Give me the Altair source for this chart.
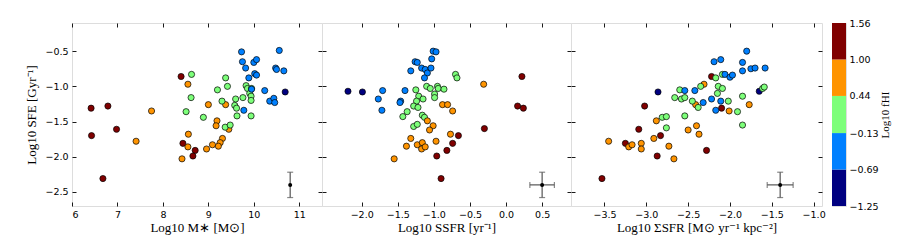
import altair as alt
import pandas as pd

# ---------------- data ----------------
# colour classes: 'n' navy, 'b' blue, 'g' green, 'o' orange, 'r' dark red
FHI = {"n": -1.0, "b": -0.4, "g": 0.15, "o": 0.7, "r": 1.3}

# Panel 1: Log10 M* vs Log10 SFE
mass_r_x = [6.42, 6.43, 6.79, 6.98, 6.68, 8.40, 8.44, 8.71, 8.66]
mass_r_y = [-1.31, -1.70, -1.28, -1.61, -2.31, -0.86, -1.81, -1.91, -1.99]
mass_o_x = [7.75, 7.41, 8.55, 8.56, 8.55, 8.42, 9.00, 9.19, 9.17, 9.09, 8.96, 9.31, 9.26, 9.22, 9.38, 9.45]
mass_o_y = [-1.35, -1.78, -0.97, -1.68, -1.86, -2.03, -1.26, -1.49, -1.56, -1.83, -1.89, -1.74, -1.80, -1.85, -1.26, -1.61]
mass_g_x = [8.63, 8.62, 8.51, 8.89, 9.20, 9.38, 9.42, 9.30, 9.37, 9.48, 9.60, 9.58, 9.62, 9.63, 9.76, 9.83, 9.86, 9.91, 9.94, 9.94, 9.94, 9.95]
mass_g_y = [-0.83, -1.16, -1.36, -1.44, -1.05, -0.88, -1.00, -1.21, -1.58, -1.55, -1.18, -1.27, -1.31, -1.42, -1.16, -0.99, -1.03, -1.10, -1.14, -1.20, -1.42, -1.03]
mass_b_x = [9.73, 9.75, 9.82, 9.89, 10.00, 10.06, 10.02, 10.06, 9.95, 9.78, 10.24, 10.35, 10.44, 10.46, 10.48, 10.50, 10.56, 10.66]
mass_b_y = [-0.51, -0.65, -0.74, -0.88, -0.66, -0.62, -0.82, -0.84, -1.04, -1.34, -1.06, -1.21, -1.17, -1.23, -0.74, -0.76, -0.49, -0.78]
mass_n_x = [10.69]
mass_n_y = [-1.08]

# Panel 2: Log10 SSFR vs Log10 SFE
ssfr_n_x = [-2.19, -1.99]
ssfr_n_y = [-1.07, -1.08]
ssfr_b_x = [-1.71, -1.77, -1.72, -1.40, -1.46, -1.47, -1.32, -1.26, -1.23, -1.17, -1.12, -1.09, -1.13, -1.04, -1.03, -1.01, -0.97]
ssfr_b_y = [-1.06, -1.18, -1.34, -1.06, -1.21, -1.23, -0.78, -0.65, -0.66, -0.74, -0.76, -0.81, -0.88, -0.74, -0.61, -0.50, -0.51]
ssfr_g_x = [-1.25, -1.21, -1.24, -1.15, -1.28, -1.22, -1.37, -1.43, -1.16, -1.13, -1.28, -1.23, -1.10, -1.05, -0.95, -0.94, -0.99, -0.99, -0.86, -0.70, -0.68]
ssfr_g_y = [-1.05, -1.14, -1.21, -1.18, -1.28, -1.30, -1.36, -1.43, -1.41, -1.44, -1.57, -1.54, -1.00, -1.03, -1.00, -1.03, -1.11, -1.16, -1.04, -0.83, -0.88]
ssfr_o_x = [-0.88, -0.81, -0.74, -1.09, -1.01, -1.06, -0.31, -1.32, -1.38, -1.23, -1.16, -1.17, -1.12, -0.97, -0.77, -1.55]
ssfr_o_y = [-1.26, -1.26, -1.35, -1.49, -1.56, -1.62, -0.97, -1.74, -1.85, -1.83, -1.80, -1.89, -1.86, -1.78, -1.68, -2.03]
ssfr_r_x = [0.22, 0.16, 0.24, -0.30, -0.66, -0.74, -0.82, -0.96, -0.90]
ssfr_r_y = [-0.86, -1.28, -1.31, -1.60, -1.70, -1.81, -1.91, -1.99, -2.31]

# Panel 3: Log10 Sigma_SFR vs Log10 SFE
ssig_r_x = [-3.53, -3.25, -3.09, -3.02, -2.87, -2.83, -2.22, -2.28, -2.10]
ssig_r_y = [-2.31, -1.81, -1.61, -1.28, -1.99, -1.70, -0.86, -1.91, -1.31]
ssig_n_x = [-2.86, -1.65]
ssig_n_y = [-1.08, -1.07]
ssig_o_x = [-3.45, -3.21, -3.17, -3.06, -3.06, -2.91, -2.88, -2.73, -2.67, -2.50, -2.40, -2.37, -2.41, -2.31, -2.01, -1.77]
ssig_o_y = [-1.78, -1.86, -1.83, -1.81, -1.89, -1.74, -1.49, -1.85, -2.03, -1.62, -1.56, -1.68, -1.26, -0.97, -1.35, -1.26]
ssig_g_x = [-2.81, -2.76, -2.76, -2.66, -2.60, -2.58, -2.54, -2.54, -2.45, -2.38, -2.35, -2.17, -2.09, -2.14, -2.09, -2.15, -2.02, -1.91, -1.85, -1.85, -1.61, -1.59]
ssig_g_y = [-1.44, -1.43, -1.59, -1.16, -1.05, -1.18, -1.16, -1.42, -1.21, -1.30, -1.00, -0.88, -0.83, -1.00, -1.03, -1.10, -1.21, -1.36, -1.14, -1.55, -1.03, -1.01]
ssig_b_x = [-2.19, -2.11, -1.80, -1.85, -1.85, -1.75, -1.70, -1.58, -2.06, -2.00, -1.97, -2.54, -2.42, -2.32, -2.22, -2.17, -2.11]
ssig_b_y = [-0.65, -0.62, -0.50, -0.66, -0.78, -0.75, -0.74, -0.74, -0.83, -0.87, -0.84, -1.06, -1.06, -1.23, -1.18, -1.34, -1.21]

# typical error bars (x, y, x-error, y-error) per panel
err_x = [10.8, 0.5, -1.4]
err_y = [-2.4, -2.4, -2.4]
err_xe = [0.0, 0.17, 0.155]
err_ye = [0.18, 0.18, 0.18]

# colour bar
cbar_edges = [-1.25, -0.69, -0.13, 0.44, 1.00, 1.56]
cbar_colors = ["#000080", "#0080ff", "#7dff7a", "#ff9400", "#800000"]

y_ticks = [-2.5, -2.0, -1.5, -1.0, -0.5]
y_domain = [-2.7, -0.1]

# ---------------- build ----------------
def frame(groups):
    rows = []
    for cls, xs, ys in groups:
        for a, b in zip(xs, ys):
            rows.append({"x": a, "y": b, "f": FHI[cls]})
    return pd.DataFrame(rows)

df_mass = frame([("r", mass_r_x, mass_r_y), ("o", mass_o_x, mass_o_y), ("g", mass_g_x, mass_g_y),
                 ("b", mass_b_x, mass_b_y), ("n", mass_n_x, mass_n_y)])
df_ssfr = frame([("n", ssfr_n_x, ssfr_n_y), ("b", ssfr_b_x, ssfr_b_y), ("g", ssfr_g_x, ssfr_g_y),
                 ("o", ssfr_o_x, ssfr_o_y), ("r", ssfr_r_x, ssfr_r_y)])
df_ssig = frame([("r", ssig_r_x, ssig_r_y), ("n", ssig_n_x, ssig_n_y), ("o", ssig_o_x, ssig_o_y),
                 ("g", ssig_g_x, ssig_g_y), ("b", ssig_b_x, ssig_b_y)])

color_scale = alt.Scale(type="threshold", domain=cbar_edges[1:-1], range=cbar_colors)

H = 183
TICK_FONT = "DejaVu Sans"
TITLE_FONT = "Liberation Serif"
# inward tick marks drawn as the first 4 px of each axis grid line
GRID = dict(grid=True, gridDash=[4, 2000], gridColor="black", gridWidth=0.9, gridOpacity=1)
FLAT = dict(minExtent=0, maxExtent=0)


def panel(df, i, xdom, xticks, xfmt, xtitle, W, first):
    xs = alt.Scale(domain=xdom, nice=False, zero=False)
    ys = alt.Scale(domain=y_domain, nice=False, zero=False)

    x_main = alt.X("x:Q", scale=xs, axis=alt.Axis(
        values=xticks, format=xfmt, title=xtitle, ticks=False, domain=False,
        labelPadding=3, labelFont=TICK_FONT, labelFontSize=9.5, labelColor="black",
        titleFont=TITLE_FONT, titleFontSize=13, titleFontWeight="normal", titleColor="black",
        titlePadding=3, **GRID))
    if first:
        y_main = alt.Y("y:Q", scale=ys, axis=alt.Axis(
            values=y_ticks, format=".1f", title="Log10 SFE [Gyr⁻¹]", ticks=False, domain=False,
            labelPadding=4, labelFont=TICK_FONT, labelFontSize=9.5, labelColor="black",
            titleFont=TITLE_FONT, titleFontSize=13, titleFontWeight="normal", titleColor="black",
            titlePadding=6, **GRID))
    else:
        y_main = alt.Y("y:Q", scale=ys, axis=alt.Axis(
            values=y_ticks, title=None, labels=False, ticks=False, domain=False, **FLAT, **GRID))

    pts = alt.Chart(df).mark_circle(size=38, stroke="black", strokeWidth=0.7, opacity=1).encode(
        x=x_main, y=y_main,
        color=alt.Color("f:Q", scale=color_scale, legend=None))

    opp = dict(labels=False, ticks=False, domain=False, title=None, **FLAT, **GRID)
    t1 = alt.Chart(df).mark_point(opacity=0).encode(
        x=alt.X("x:Q", scale=xs, axis=alt.Axis(values=xticks, orient="top", **opp)),
        y=alt.Y("y:Q", scale=ys, axis=alt.Axis(values=y_ticks, orient="right", **opp)))

    e = pd.DataFrame({"x": [err_x[i]], "y": [err_y[i]],
                      "xlo": [err_x[i] - err_xe[i]], "xhi": [err_x[i] + err_xe[i]],
                      "ylo": [err_y[i] - err_ye[i]], "yhi": [err_y[i] + err_ye[i]]})
    ecol = "#555555"
    XN = lambda f: alt.X(f, scale=xs, axis=None)
    YN = lambda f: alt.Y(f, scale=ys, axis=None)
    vbar = alt.Chart(e).mark_rule(color=ecol, strokeWidth=1.2).encode(
        x=XN("x:Q"), y=YN("ylo:Q"), y2="yhi:Q")
    vcap = alt.Chart(e).transform_fold(["ylo", "yhi"], as_=["k", "v"]).mark_tick(
        color=ecol, orient="horizontal", size=6, thickness=1.2).encode(
        x=XN("x:Q"), y=YN("v:Q"))
    layers = [pts, t1, vbar, vcap]
    if err_xe[i] > 0:
        hbar = alt.Chart(e).mark_rule(color=ecol, strokeWidth=1.2).encode(
            x=XN("xlo:Q"), x2="xhi:Q", y=YN("y:Q"))
        hcap = alt.Chart(e).transform_fold(["xlo", "xhi"], as_=["k", "v"]).mark_tick(
            color=ecol, orient="vertical", size=6, thickness=1.2).encode(
            x=XN("v:Q"), y=YN("y:Q"))
        layers += [hbar, hcap]
    dot = alt.Chart(e).mark_circle(size=16, color="black", opacity=1).encode(
        x=XN("x:Q"), y=YN("y:Q"))
    layers.append(dot)

    return alt.layer(*layers).resolve_axis(x="independent", y="independent").properties(
        width=W, height=H)


p1 = panel(df_mass, 0, [6, 11.5], [6, 7, 8, 9, 10, 11], "d", "Log10 M∗ [M⊙]", 250, True)
p2 = panel(df_ssfr, 1, [-2.55, 0.9], [-2.0, -1.5, -1.0, -0.5, 0.0, 0.5], ".1f",
           "Log10 SSFR [yr⁻¹]", 249, False)
p3 = panel(df_ssig, 2, [-3.9, -0.9], [-3.5, -3.0, -2.5, -2.0, -1.5, -1.0], ".1f",
           "Log10 ΣSFR [M⊙ yr⁻¹ kpc⁻²]", 251, False)

cb_df = pd.DataFrame({"lo": cbar_edges[:-1], "hi": cbar_edges[1:], "c": cbar_colors})
cbar = alt.Chart(cb_df).mark_rect().encode(
    y=alt.Y("lo:Q", scale=alt.Scale(domain=[cbar_edges[0], cbar_edges[-1]], nice=False, zero=False),
            axis=alt.Axis(orient="right", values=cbar_edges, format=".2f", title="Log10 fHI",
                          titleAngle=270, ticks=False, domain=False, grid=False, labelPadding=3,
                          labelFont=TICK_FONT, labelFontSize=9.5, labelColor="black",
                          titleFont=TITLE_FONT, titleFontSize=11, titleFontWeight="normal",
                          titleColor="black", titlePadding=12)),
    y2="hi:Q",
    color=alt.Color("c:N", scale=None)
).properties(width=14, height=H)

chart = alt.hconcat(
    alt.hconcat(p1, p2, p3, spacing=0, bounds="flush"),
    cbar, spacing=5
).properties(
    padding={"left": 17, "top": 9, "right": 5, "bottom": 5}
).configure_view(stroke="black", strokeWidth=1).configure(background="white")

chart.save("out.html", embed_options={"renderer": "svg", "actions": False})
